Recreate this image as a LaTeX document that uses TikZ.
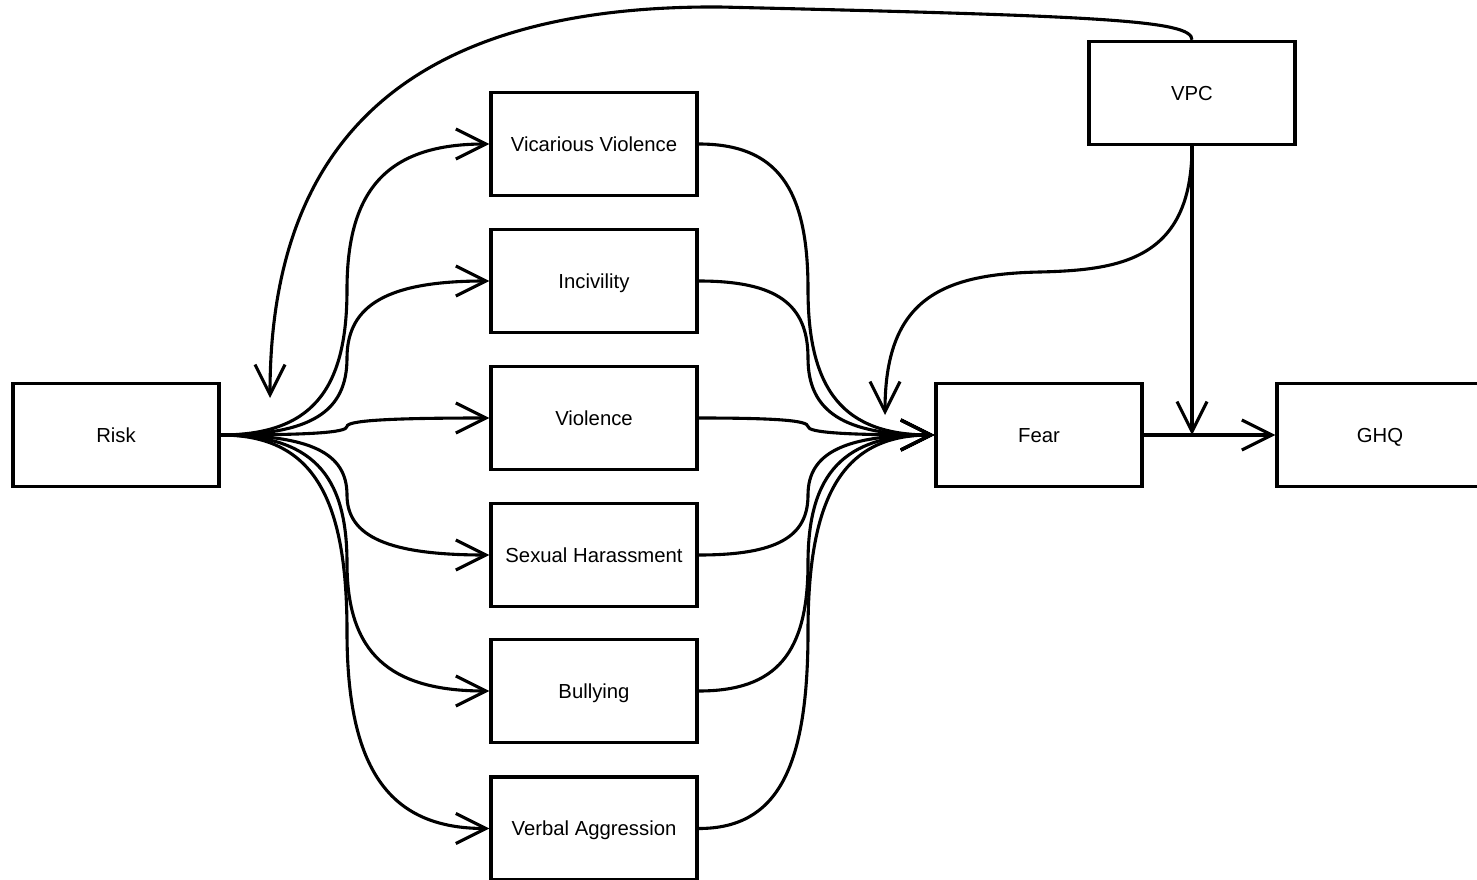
\documentclass[tikz,border=0pt]{standalone}
\usepackage{fontspec}
\setmainfont{Liberation Sans}
\usetikzlibrary{arrows.meta}
\begin{document}
\begin{tikzpicture}[x=1pt,y=-1pt,
  box/.style={draw,line width=3.4pt,minimum width=206pt,minimum height=103pt,inner sep=0pt,text height=17pt,text depth=2.4pt,font=\fontsize{20.3}{24}\selectfont},
  conn/.style={line width=3.1pt,-{Straight Barb[length=30pt,width=30pt]}}]
\useasboundingbox (0,0) rectangle (1477,880);
\node[box] (Risk) at (116,435) {Risk};
\node[box] (VV) at (594,144) {Vicarious Violence};
\node[box] (Inc) at (594,281) {Incivility};
\node[box] (Vio) at (594,418) {Violence};
\node[box] (SH) at (594,555) {Sexual Harassment};
\node[box] (Bul) at (594,691) {Bullying};
\node[box] (VA) at (594,828.5) {Verbal Aggression};
\node[box] (Fear) at (1039,435) {Fear};
\node[box] (GHQ) at (1380,435) {GHQ};
\node[box] (VPC) at (1192,93) {VPC};
\coordinate (rk) at (270,398);
\coordinate (fr) at (885,415);
\coordinate (jn) at (VPC.south |- Fear.east);
% left fan
\draw[conn] (Risk.east) .. controls +(90,0) and (347,391.5) .. (347,289.5) .. controls (347,187.5) and +(-100,0) .. (VV.west);
\draw[conn] (Risk.east) .. controls +(90,0) and (347,412) .. (347,358) .. controls (347,304) and +(-100,0) .. (Inc.west);
\draw[conn] (Risk.east) .. controls +(90,0) and (347,432.5) .. (347,426.5) .. controls (347,420.5) and +(-100,0) .. (Vio.west);
\draw[conn] (Risk.east) .. controls +(90,0) and (347,453) .. (347,495) .. controls (347,537) and +(-100,0) .. (SH.west);
\draw[conn] (Risk.east) .. controls +(90,0) and (347,473) .. (347,563) .. controls (347,653) and +(-100,0) .. (Bul.west);
\draw[conn] (Risk.east) .. controls +(90,0) and (347,493.5) .. (347,631.5) .. controls (347,769.5) and +(-100,0) .. (VA.west);
% right fan
\draw[conn] (VV.east) .. controls +(78,0) and (808,187.5) .. (808,289.5) .. controls (808,391.5) and +(-90,0) .. (Fear.west);
\draw[conn] (Inc.east) .. controls +(78,0) and (808,304) .. (808,358) .. controls (808,412) and +(-90,0) .. (Fear.west);
\draw[conn] (Vio.east) .. controls +(78,0) and (808,420.5) .. (808,426.5) .. controls (808,432.5) and +(-90,0) .. (Fear.west);
\draw[conn] (SH.east) .. controls +(78,0) and (808,537) .. (808,495) .. controls (808,453) and +(-90,0) .. (Fear.west);
\draw[conn] (Bul.east) .. controls +(78,0) and (808,653) .. (808,563) .. controls (808,473) and +(-90,0) .. (Fear.west);
\draw[conn] (VA.east) .. controls +(78,0) and (808,769.5) .. (808,631.5) .. controls (808,493.5) and +(-90,0) .. (Fear.west);
% VPC connectors
\draw[conn] (VPC.north) .. controls (1192,20) and (1100,16) .. (720,7) .. controls (420,5) and (270,130) .. (rk);
\draw[conn] (VPC.south) .. controls (1192,260) and (1120,270) .. (1040,272) .. controls (940,274) and (885,300) .. (fr);
\draw[conn] (VPC.south) -- (jn);
\draw[conn] (Fear.east) -- (GHQ.west);
\end{tikzpicture}
\end{document}
